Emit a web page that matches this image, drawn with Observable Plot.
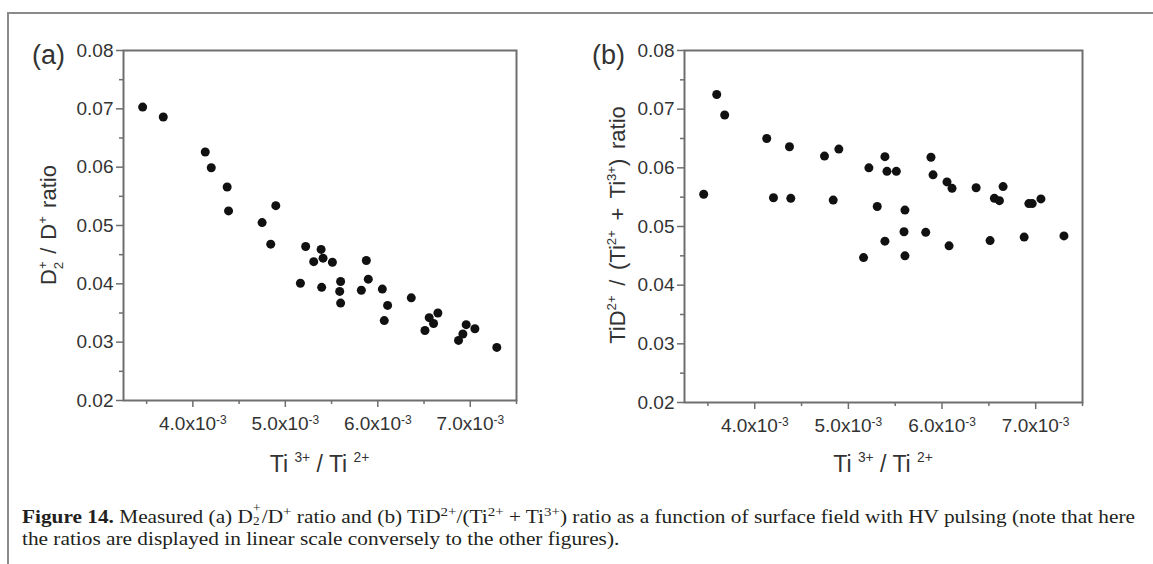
<!DOCTYPE html>
<html><head><meta charset="utf-8">
<script src="https://cdn.jsdelivr.net/npm/d3@7"></script>
<script src="https://cdn.jsdelivr.net/npm/@observablehq/plot@0.6"></script>
<style>
body{margin:0;background:#fff;}
#fig{position:relative;width:1153px;height:564px;overflow:hidden;font-family:"Liberation Sans",Arial,sans-serif;background:#fff}
#frame{position:absolute;left:7px;top:12px;width:1200px;height:600px;border-left:2px solid #8a8a8a;border-top:2px solid #8a8a8a;}
#pa{position:absolute;left:0;top:0}
#pb{position:absolute;left:575px;top:0}
#caption{position:absolute;left:22px;top:506px;font-family:"Liberation Serif","Times New Roman",serif;font-size:19px;color:#231f20;line-height:22px;white-space:nowrap;transform-origin:0 0}
#caption sup,#caption sub{font-size:0.7em;line-height:0}
.ss{display:inline-block;position:relative;width:0.42em;height:1em;vertical-align:-0.1em}
.ss span{position:absolute;left:0;font-size:0.62em;line-height:1}
.ss .up{top:-0.25em}
.ss .dn{top:0.85em}
</style></head>
<body>
<div id="fig">
  <div id="frame"></div>
  <div id="pa"></div>
  <div id="pb"></div>
  <div id="caption"><span id="l1"><b>Figure 14.</b> Measured (a) D<span class="ss"><span class="up">+</span><span class="dn">2</span></span>/D<sup>+</sup> ratio and (b) TiD<sup>2+</sup>/(Ti<sup>2+</sup> + Ti<sup>3+</sup>) ratio as a function of surface field with HV pulsing (note that here</span><br><span>the ratios are displayed in linear scale conversely to the other figures).</span></div>
</div>
<script>
// ---- data (panel a): Ti3+/Ti2+ vs D2+/D+ ratio ----
const xA = [0.003457,0.00368,0.004134,0.004199,0.004371,0.004386,0.004749,0.004897,0.004842,0.00522,0.005387,0.005307,0.005408,0.005509,0.005876,0.005163,0.005393,0.005598,0.005588,0.005598,0.005897,0.005822,0.006049,0.006106,0.00607,0.006362,0.00651,0.006556,0.006603,0.00665,0.006873,0.00692,0.006956,0.00705,0.007287];
const yA = [0.0703,0.0686,0.0626,0.0599,0.0566,0.0525,0.0505,0.0534,0.0468,0.0464,0.0459,0.0438,0.0444,0.0437,0.0440,0.0401,0.0394,0.0404,0.0387,0.0367,0.0408,0.0389,0.0391,0.0363,0.0337,0.0376,0.0320,0.0342,0.0332,0.0350,0.0303,0.0314,0.0330,0.0323,0.0291];
// ---- data (panel b): Ti3+/Ti2+ vs TiD2+/(Ti2+ + Ti3+) ratio ----
const xB = [0.003455,0.003594,0.003679,0.004128,0.0042,0.004371,0.004385,0.004745,0.004898,0.004838,0.005219,0.005308,0.005162,0.00539,0.005412,0.005512,0.00539,0.005604,0.005594,0.005604,0.005826,0.005882,0.005904,0.006053,0.006107,0.006075,0.006364,0.006513,0.006559,0.006613,0.006652,0.006877,0.006927,0.006963,0.007056,0.007302];
const yB = [0.0555,0.0725,0.0690,0.0650,0.0549,0.0636,0.0548,0.0620,0.0632,0.0545,0.0600,0.0534,0.0447,0.0619,0.0594,0.0594,0.0475,0.0528,0.0491,0.0450,0.0490,0.0618,0.0588,0.0576,0.0565,0.0467,0.0566,0.0476,0.0548,0.0544,0.0568,0.0482,0.0539,0.0539,0.0547,0.0484];
// ---- ticks ----
const xMajor = [0.004,0.005,0.006,0.007];
const xMinor = [0.0035,0.0045,0.0055,0.0065,0.0075];
const yMajor = [0.02,0.03,0.04,0.05,0.06,0.07,0.08];
const yMinor = [0.025,0.035,0.045,0.055,0.065,0.075];
const xDomain = [0.00325,0.0075];
const yDomain = [0.02,0.08];

const AX = "#6e6e6e", TXT = "#333";

function panel(xs, ys, m, w) {
  const data = xs.map((x,i)=>({x, y: ys[i]}));
  return Plot.plot({
    width: w, height: 490,
    marginLeft: m[0], marginRight: m[1], marginTop: 50, marginBottom: m[2],
    style: {fontFamily: "'Liberation Sans', Arial, sans-serif", fontSize: "18px", color: TXT, background: "transparent", overflow: "visible"},
    x: {domain: xDomain},
    y: {domain: yDomain},
    marks: [
      Plot.axisX(xMinor, {tickSize: 4, tickFormat: () => "", stroke: AX, strokeWidth: 1.5, label: null}),
      Plot.axisX(xMajor, {tickSize: 7, tickPadding: 9, stroke: AX, strokeWidth: 1.5, fill: TXT, fontSize: 19,
        tickFormat: d => (d*1000).toFixed(1) + "x10", label: null}),
      Plot.axisY(yMinor, {tickSize: 4, tickFormat: () => "", stroke: AX, strokeWidth: 1.5, label: null}),
      Plot.axisY(yMajor, {tickSize: 7, tickPadding: 3, stroke: AX, strokeWidth: 1.5, fill: TXT, fontSize: 19,
        tickFormat: d3.format(".2f"), label: null}),
      Plot.frame({stroke: AX, strokeWidth: 2}),
      Plot.dot(data, {x: "x", y: "y", r: 4.5, fill: "#111", stroke: "none"})
    ]
  });
}

function rich(parent, x, y, parts, size, rotate, wordSpacing) {
  const t = parent.append("text").attr("x", x).attr("y", y).attr("font-size", size)
    .attr("text-anchor", "middle").attr("fill", TXT);
  if (wordSpacing) t.attr("word-spacing", wordSpacing);
  if (rotate) t.attr("transform", `rotate(-90 ${x} ${y})`);
  let cur = 0;
  for (const p of parts) {
    const s = p.s || "n";
    const target = s === "sup" ? -0.42*size : s === "sub" ? 0.3*size : 0;
    const ts = t.append("tspan").text(p.t).attr("dy", target - cur);
    if (s !== "n") ts.attr("font-size", 0.6*size);
    if (p.dx) ts.attr("dx", p.dx);
    cur = target;
  }
  return t;
}

function decorate(svg, label, labelX, yParts, yTitleX, yTitleY, ws, plotCx) {
  const s = d3.select(svg);
  s.selectAll('g[aria-label="x-axis tick label"] text').each(function() {
    if (this.textContent) {
      d3.select(this).append("tspan").text("-3").attr("font-size", 12).attr("dy", -6);
    }
  });
  s.append("text").attr("x", labelX).attr("y", 64).attr("font-size", 27)
    .attr("text-anchor", "start").attr("fill", TXT).text(label);
  rich(s, plotCx, 472, [{t:"Ti "},{t:"3+",s:"sup"},{t:" / Ti "},{t:"2+",s:"sup"}], 23, false, 0);
  rich(s, yTitleX, yTitleY, yParts, 22, true, ws);
}

const svgA = panel(xA, yA, [123, 59, 90], 575);
document.getElementById("pa").appendChild(svgA);
decorate(svgA, "(a)", 32, [{t:"D"},{t:"+",s:"sup"},{t:"2",s:"sub",dx:-8},{t:" / D"},{t:"+",s:"sup"},{t:" ratio"}], 56, 225, 2, (123+516)/2);

const svgB = panel(xB, yB, [109, 71, 88], 578);
document.getElementById("pb").appendChild(svgB);
decorate(svgB, "(b)", 17, [{t:"TiD"},{t:"2+",s:"sup"},{t:" / (Ti"},{t:"2+",s:"sup"},{t:" + Ti"},{t:"3+",s:"sup"},{t:") ratio"}], 50, 225, 3.5, (109+507)/2);

// fit caption first line to reference width (condensed serif)
const l1 = document.getElementById("l1");
const cap = document.getElementById("caption");
const w = l1.getBoundingClientRect().width;
cap.style.transform = `scaleX(${(1113 / w).toFixed(4)})`;
</script>
</body></html>
